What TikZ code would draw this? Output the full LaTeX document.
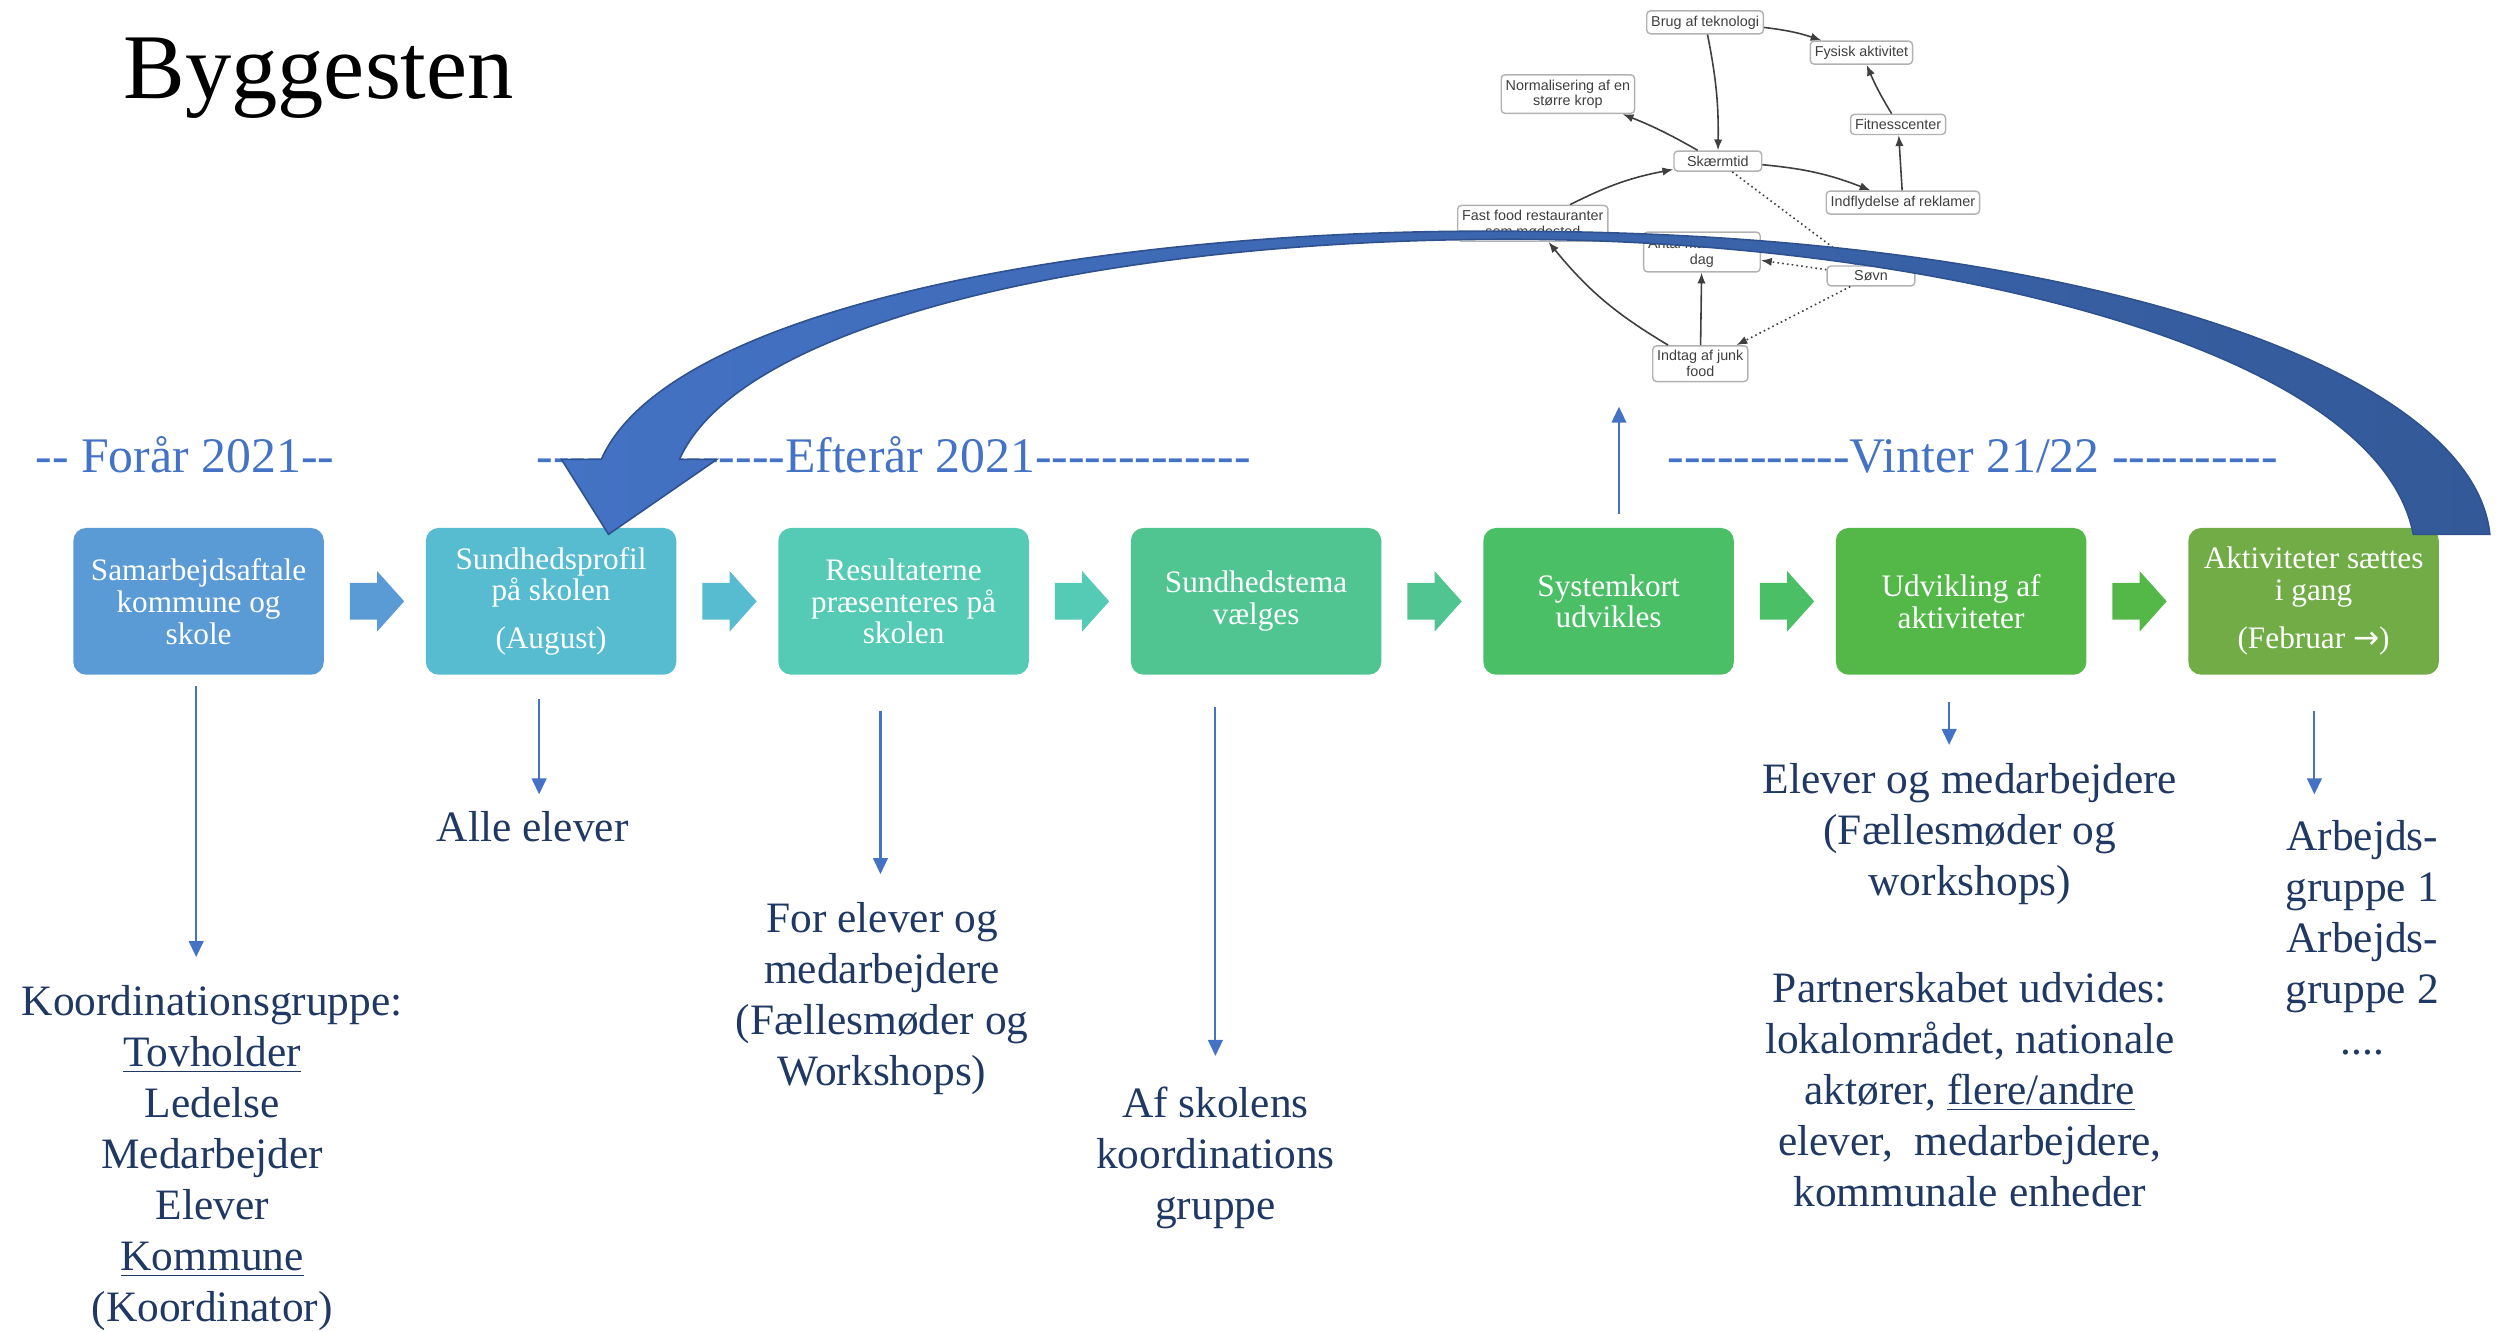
\documentclass[tikz,border=0pt]{standalone}
\usepackage{fontspec}
\setmainfont{Liberation Serif}
\newfontfamily\timefont{Liberation Serif}[Ligatures=TeXOff]
\newfontfamily\mapfont{Liberation Sans}
\newfontfamily\symfont{DejaVu Sans}
\usepackage{tikz}
\usetikzlibrary{arrows.meta,positioning,calc}

\definecolor{stepA}{HTML}{5B9BD5}
\definecolor{stepB}{HTML}{57BCCF}
\definecolor{stepC}{HTML}{55CAB5}
\definecolor{stepD}{HTML}{50C591}
\definecolor{stepE}{HTML}{4ABF66}
\definecolor{stepF}{HTML}{53B848}
\definecolor{stepG}{HTML}{71AC47}
\definecolor{timeblue}{HTML}{4472C4}
\definecolor{navy}{HTML}{203864}
\definecolor{loopdark}{HTML}{335998}
\definecolor{loopline}{HTML}{2F528F}
\definecolor{mapgrey}{HTML}{3F3F3F}

\begin{document}
\begin{tikzpicture}
      [x=0.5pt, y=-0.5pt,
      node distance=31.6pt,
      stepbox/.style={rounded corners=4pt, minimum width=78.5pt, minimum height=46pt, align=center, text=white, inner sep=1pt, font=\fontsize{9.8}{10}\selectfont},
      timelabel/.style={anchor=west, inner sep=0pt, text=timeblue, font=\timefont\fontsize{15.6}{17}\selectfont},
      lowtext/.style={align=center, inner sep=0pt, text=navy, font=\fontsize{13.6}{16}\selectfont},
      thinarrow/.style={draw=timeblue, line width=0.65pt, -{Triangle[width=4.6pt,length=5pt]}},
      mapbox/.style={draw=gray!60, fill=white, rounded corners=1.2pt, line width=0.45pt, align=center, text=mapgrey, minimum width=27.5pt, inner xsep=1.4pt, inner ysep=1.5pt, font=\mapfont\fontsize{4.5}{4.9}\selectfont},
      mapedge/.style={draw=mapgrey, line width=0.5pt, -{Latex[length=3.4pt,width=2.6pt]}},
      mapdot/.style={mapedge, densely dotted}
      ]
    \useasboundingbox (0,0) rectangle (1568,835);

    \node[anchor=base west, inner sep=0pt, font=\fontsize{29}{30}\selectfont] (title) at (77,62) {Byggesten};

    % periods
    \node[timelabel] (spring) at (22,285) {-- Forår 2021--};
    \node[timelabel] (autumn) at (336,285) {---------------Efterår 2021-------------};
    \node[timelabel] (winter) at (1045,286) {-----------Vinter 21/22 ----------};

    % the steps
    \node[stepbox, fill=stepA] (b1) at (124.5,377) {Samarbejdsaftale\\kommune og\\skole};
    \node[stepbox, fill=stepB, right=of b1] (b2) {Sundhedsprofil\\på skolen\\[5pt](August)};
    \node[stepbox, fill=stepC, right=of b2] (b3) {Resultaterne\\præsenteres på\\skolen};
    \node[stepbox, fill=stepD, right=of b3] (b4) {Sundhedstema\\vælges};
    \node[stepbox, fill=stepE, right=of b4] (b5) {Systemkort\\udvikles};
    \node[stepbox, fill=stepF, right=of b5] (b6) {Udvikling af\\aktiviteter};
    \node[stepbox, fill=stepG, right=of b6] (b7) {Aktiviteter sættes\\i gang\\[5pt](Februar {\symfont →})};

    \foreach \i/\c in {1/stepA,2/stepB,3/stepC,4/stepD,5/stepE,6/stepF}
      \fill[\c] ($(b\i.east)+(16,-11.5)$) -- ++(17,0) -- ++(0,-7.5) -- ++(17,19)
        -- ++(-17,19) -- ++(0,-7.5) -- ++(-17,0) -- cycle;

    % who takes part
    \node[lowtext] (t1) at (133,726) {Koordinationsgruppe:\\\underline{Tovholder}\\Ledelse\\Medarbejder\\Elever\\\underline{Kommune}\\(Koordinator)};
    \node[lowtext] (t2) at (334,518) {Alle elever};
    \node[lowtext] (t3) at (553,626) {For elever og\\medarbejdere\\(Fællesmøder og\\Workshops)};
    \node[lowtext] (t4) at (762,726) {Af skolens\\koordinations\\gruppe};
    \node[lowtext] (t6) at (1235,523) {Elever og medarbejdere\\(Fællesmøder og\\workshops)};
    \node[lowtext] (t6b) at (1235,683) {Partnerskabet udvides:\\lokalområdet, nationale\\aktører, \underline{flere/andre}\\elever,\ \ medarbejdere,\\kommunale enheder};
    \node[lowtext] (t7) at (1481,588) {Arbejds-\\gruppe 1\\Arbejds-\\gruppe 2\\....};

    \foreach \n/\x/\ya/\yb in {1/123/430/600, 2/338/438/498, 3/552/446/548, 4/762/443/662, 6/1222/440/467, 7/1451/446/498}{
      \coordinate (s\n) at (\x,\ya);
      \coordinate (e\n) at (\x,\yb);
      \draw[thinarrow] (s\n) -- (e\n);
    }
    \coordinate (s5) at (1015,322);
    \coordinate (e5) at (1015,255);
    \draw[thinarrow] (s5) -- (e5);

    % system map
    \node[mapbox] (tech) at (1069,14) {Brug af teknologi};
    \node[mapbox] (phys) at (1167,33) {Fysisk aktivitet};
    \node[mapbox] (norm) at (983,59) {Normalisering af en\\større krop};
    \node[mapbox] (gym) at (1190,78) {Fitnesscenter};
    \node[mapbox] (screen) at (1077,101) {Skærmtid};
    \node[mapbox] (ads) at (1193,127) {Indflydelse af reklamer};
    \node[mapbox] (fastfood) at (961,140) {Fast food restauranter\\som mødested};
    \node[mapbox] (meals) at (1067,158) {Antal måltider pr.\\dag};
    \node[mapbox] (sleep) at (1173,173) {Søvn};
    \node[mapbox] (junk) at (1066,228) {Indtag af junk\\food};

    \draw[mapedge] (tech) to[bend left=6] (phys);
    \draw[mapedge] (tech) to[bend left=6] (screen);
    \draw[mapedge] (screen) to[bend right=4] (norm);
    \draw[mapedge] (screen) to[bend left=8] (ads);
    \draw[mapedge] (ads) -- (gym);
    \draw[mapedge] (gym) to[bend left=4] (phys);
    \draw[mapedge] (fastfood) to[bend left=8] (screen);
    \draw[mapedge] (junk) to[bend left=10] (fastfood);
    \draw[mapedge] (junk) -- (meals);
    \draw[mapdot] (screen) -- (sleep);
    \draw[mapdot] (sleep) -- (meals);
    \draw[mapdot] (sleep) -- (junk);

    % loop back to the start
    \filldraw[left color=timeblue, right color=loopdark, draw=loopline, line width=0.5pt]
      (377,288) -- (352,288) -- (381.5,335) -- (449.5,288) -- (426,288)
      .. controls (465,200) and (700,150) .. (946,150)
      .. controls (1200,150) and (1490,215) .. (1513,335)
      -- (1561,335)
      .. controls (1550,230) and (1300,145) .. (946,145)
      .. controls (700,143) and (420,190) .. (377,288) -- cycle;
\end{tikzpicture}
\end{document}
